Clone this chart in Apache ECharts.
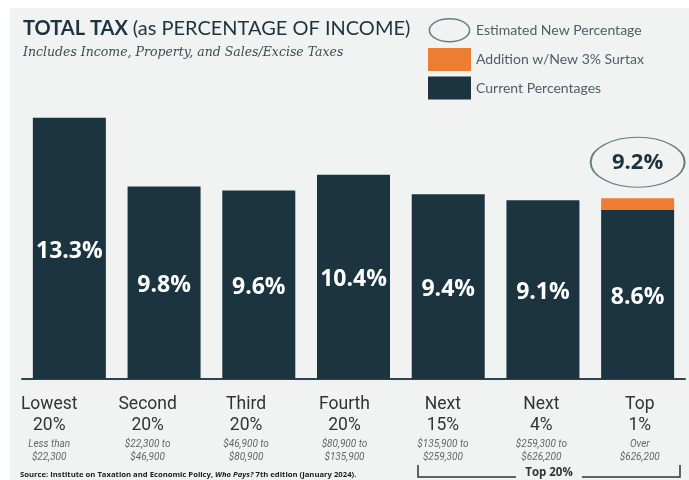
<!DOCTYPE html>
<html>
<head>
<meta charset="utf-8">
<script src="https://cdn.jsdelivr.net/npm/echarts@6/dist/echarts.min.js"></script>
<style>
  html, body { margin: 0; padding: 0; background: #fff; }
  #chart { width: 689px; height: 480px; }
</style>
</head>
<body>
<div id="chart"></div>
<script>
  // data
  var groupNames = ['Lowest', 'Second', 'Third', 'Fourth', 'Next', 'Next', 'Top']
  var groupShares = ['20%', '20%', '20%', '20%', '15%', '4%', '1%']
  var incomeRanges = [
    ['Less than', '$22,300'],
    ['$22,300 to', '$46,900'],
    ['$46,900 to', '$80,900'],
    ['$80,900 to', '$135,900'],
    ['$135,900 to', '$259,300'],
    ['$259,300 to', '$626,200'],
    ['Over', '$626,200'],
  ]
  var currentPct = [13.3, 9.8, 9.6, 10.4, 9.4, 9.1, 8.6]
  var surtaxAdd = ['-', '-', '-', '-', '-', '-', 0.6]
  var estimatedNew = ['-', '-', '-', '-', '-', '-', 9.2]

  var categories = groupNames.map(function (n, i) { return n + ' ' + groupShares[i] })

  var chart = echarts.init(document.getElementById('chart'))
  var option = {
    backgroundColor: '#ffffff',
    animation: false,
    title: {
      left: 23,
      top: 19,
      padding: 0,
      text: '{b|TOTAL TAX} {r|(as PERCENTAGE OF INCOME)}',
      textStyle: {
        rich: {
          b: { fontFamily: 'Lato', fontWeight: 'bold', fontSize: 20, color: '#1d3440' },
          r: { fontFamily: 'Lato', fontWeight: 'normal', fontSize: 20, color: '#1d3440' },
        },
      },
      subtext: 'Includes Income, Property, and Sales/Excise Taxes',
      itemGap: 7,
      subtextStyle: {
        fontFamily: 'DejaVu Serif',
        fontStyle: 'italic',
        fontSize: 12.5,
        color: '#3d4b55',
      },
    },
    legend: {
      orient: 'vertical',
      left: 428,
      top: 18,
      padding: 0,
      itemWidth: 43,
      itemHeight: 23,
      itemGap: 5.5,
      selectedMode: false,
      textStyle: { fontFamily: 'Lato', fontSize: 14, color: '#4f5d69' },
      data: [
        {
          name: 'Estimated New Percentage',
          icon: 'path://M0,12a21,12 0 1,0 42,0a21,12 0 1,0 -42,0',
          itemStyle: { color: 'rgba(0,0,0,0)', borderColor: '#6f7b82', borderWidth: 1.5, opacity: 1 },
        },
        { name: 'Addition w/New 3% Surtax', icon: 'rect' },
        { name: 'Current Percentages', icon: 'rect' },
      ],
    },
    grid: [
      { left: 22, right: 4, top: 104, bottom: 101 },
      // labels under the bars are spaced a bit wider than the bars themselves
      { left: 0, width: 698, top: 104, bottom: 101 },
    ],
    xAxis: [
      {
        type: 'category',
        gridIndex: 0,
        data: categories,
        axisTick: { show: false },
        axisLine: { show: true, lineStyle: { color: '#2c4350', width: 2 } },
        axisLabel: { show: false },
      },
      {
        type: 'category',
        gridIndex: 1,
        data: categories,
        axisTick: { show: false },
        axisLine: { show: false },
        axisLabel: {
          margin: 15,
          interval: 0,
          formatter: function (val, i) {
            return '{n|' + groupNames[i] + '}\n{n|' + groupShares[i] + '}\n{g|}\n{s|' +
              incomeRanges[i][0] + '}\n{s|' + incomeRanges[i][1] + '}'
          },
          rich: {
            n: { fontFamily: 'Roboto', fontSize: 17.5, lineHeight: 21, color: '#333333' },
            g: { lineHeight: 2 },
            s: { fontFamily: 'Roboto', fontStyle: 'italic', fontSize: 10, lineHeight: 13, color: '#666666' },
          },
        },
      },
    ],
    yAxis: [
      { type: 'value', gridIndex: 0, min: 0, max: 14, show: false },
      { type: 'value', gridIndex: 1, min: 0, max: 14, show: false },
    ],
    series: [
      {
        name: 'Current Percentages',
        type: 'bar',
        stack: 'total',
        barWidth: 73,
        itemStyle: { color: '#1b3440' },
        label: {
          show: true,
          position: 'inside',
          offset: [0, 3],
          formatter: '{c}%',
          fontFamily: 'Open Sans',
          fontWeight: 'bold',
          fontSize: 23,
          color: '#ffffff',
        },
        data: currentPct,
      },
      {
        name: 'Addition w/New 3% Surtax',
        type: 'bar',
        stack: 'total',
        barWidth: 73,
        itemStyle: { color: '#ed7d31' },
        data: surtaxAdd,
      },
      {
        name: 'Estimated New Percentage',
        type: 'scatter',
        symbol: 'circle',
        symbolSize: [94, 50],
        symbolOffset: [0, -36],
        itemStyle: { color: 'rgba(0,0,0,0)', borderColor: '#6f7b82', borderWidth: 1.5, opacity: 1 },
        label: {
          show: true,
          position: 'inside',
          formatter: '{c}%',
          fontFamily: 'Open Sans',
          fontWeight: 'bold',
          fontSize: 22,
          color: '#1d3440',
        },
        data: estimatedNew,
      },
    ],
    graphic: [
      {
        type: 'rect',
        z: -10,
        silent: true,
        shape: { x: 10, y: 8, width: 679, height: 472 },
        style: { fill: '#f1f2f2' },
      },
      {
        type: 'text',
        left: 20,
        top: 471,
        style: {
          text: '{a|Source: Institute on Taxation and Economic Policy, }{i|Who Pays?}{a| 7th edition (January 2024).}',
          rich: {
            a: { fontFamily: 'Open Sans', fontWeight: 'bold', fontSize: 7.7, fill: '#1d1d1d' },
            i: { fontFamily: 'Open Sans', fontWeight: 'bold', fontStyle: 'italic', fontSize: 7.7, fill: '#1d1d1d' },
          },
        },
      },
      {
        type: 'polyline',
        shape: { points: [[418, 465], [418, 477], [516, 477]] },
        style: { stroke: '#333333', lineWidth: 1.5, fill: null },
      },
      {
        type: 'polyline',
        shape: { points: [[582, 477], [680, 477], [680, 465]] },
        style: { stroke: '#333333', lineWidth: 1.5, fill: null },
      },
      {
        type: 'text',
        x: 549,
        y: 473,
        style: {
          text: 'Top 20%',
          align: 'center',
          verticalAlign: 'middle',
          fontFamily: 'Open Sans',
          fontWeight: 'bold',
          fontSize: 11.5,
          fill: '#333333',
        },
      },
    ],
  }
  chart.setOption(option)
</script>
</body>
</html>
